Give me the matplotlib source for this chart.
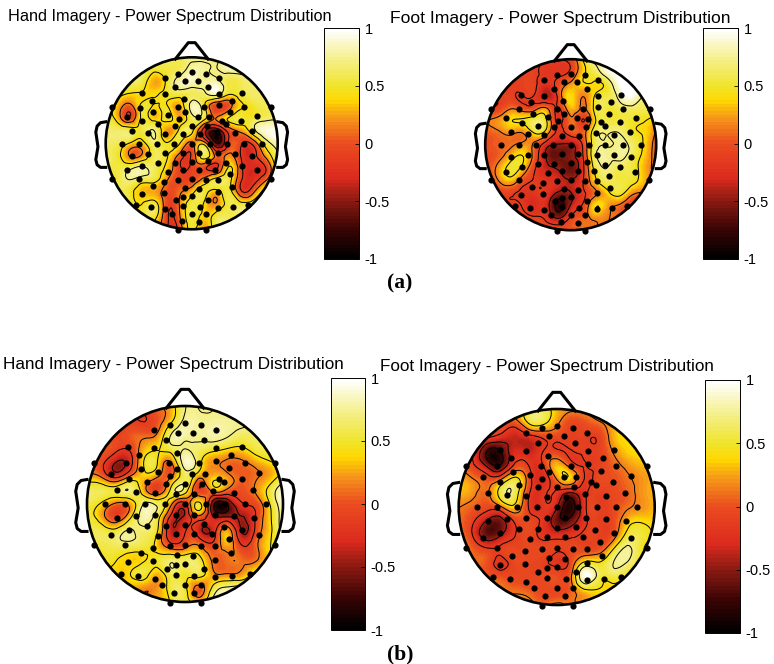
import matplotlib
matplotlib.use("Agg")
import matplotlib.pyplot as plt
import matplotlib.tri as mtri
import numpy as np
from matplotlib.colors import LinearSegmentedColormap
from matplotlib.patches import Circle

plt.rcParams['font.family'] = ['Liberation Sans', 'DejaVu Sans']

W, H = 774, 664

# value on a 15x15 raster over the head, top row first
hand_a = [
    [.65, .65, .65, .65, .65, .65, .65, .65, .65, .65, .7, .7, .7, .7, .7],
    [.65, .65, .65, .6, .5, .55, .6, .8, .75, .7, .8, .8, .8, .8, .8],
    [.65, .6, .6, .55, .25, .5, .8, .85, .75, .8, .55, .6, .65, .65, .65],
    [.55, .5, .4, .4, .4, .5, .55, .6, .65, .8, .45, .55, .65, .6, .6],
    [.55, .3, .05, .5, .4, .45, .25, .8, .5, -.1, 0, .4, .5, .6, .65],
    [.6, .3, -.05, .5, .35, .5, .3, .6, .5, .15, .45, .55, .55, .65, .65],
    [.7, .65, .6, .55, .7, .2, .5, .5, -.3, -.7, -.05, .2, .6, .9, .95],
    [.65, .6, .4, .35, .65, .45, .45, .1, .3, -.7, -.1, -.1, -.05, .55, .85],
    [.65, .5, .1, .2, .6, .45, .05, -.1, .6, .05, .2, -.15, -.25, .2, .7],
    [.65, .55, .65, .75, .6, .35, -.1, -.1, -.05, -.2, .45, -.05, -.3, -.15, .65],
    [.65, .55, .7, .55, .5, .15, -.05, -.05, .25, .55, .55, -.1, -.25, .1, .65],
    [.65, .6, .5, .3, .25, 0, .1, .35, .55, .3, .55, -.05, .1, .55, .7],
    [.65, .6, .55, .45, .55, -.05, .15, .55, .4, .2, .55, .55, .6, .7, .75],
    [.65, .6, .55, .5, .5, -.1, .1, .55, .35, .55, .6, .7, .9, .95, .95],
    [.55, .55, .55, .5, .3, -.1, -.05, .5, .15, .55, .75, .95, .95, .95, .95],
]
foot_a = [
    [-.05, -.05, -.05, -.05, -.05, -.1, -.1, -.05, .45, .8, .9, 1, 1, 1, 1],
    [-.1, -.1, -.1, -.1, -.1, -.2, -.2, -.1, .35, .6, .9, 1, 1, 1, 1],
    [-.1, -.1, -.1, -.1, -.1, -.25, -.05, .2, .4, .4, .55, .95, 1, 1, 1],
    [-.1, -.1, -.1, -.15, -.15, -.4, -.05, .4, .15, .45, .55, .8, .95, .7, .7],
    [-.05, -.1, .1, 0, 0, .15, -.15, .3, .1, .5, .55, .6, .65, .6, .55],
    [.1, .2, .4, .45, .6, .45, -.2, .1, -.15, .4, .55, .55, .5, .45, .3],
    [.05, .1, .2, .15, .45, .3, -.2, 0, .05, .6, .7, .7, .5, .4, .1],
    [-.05, .05, .1, .2, .1, -.3, -.45, -.45, -.1, .6, .7, .75, .65, .4, 0],
    [0, .05, .3, .45, .05, -.45, -.6, -.5, -.15, .65, .75, .75, .6, .35, 0],
    [-.05, .2, .5, .35, -.1, -.35, -.45, -.6, -.2, .5, .7, .6, .55, .3, .05],
    [-.05, .1, .3, 0, -.15, -.2, -.3, -.4, -.15, .35, .6, .55, .5, .3, .05],
    [-.1, -.1, -.1, -.2, -.2, -.2, -.5, -.45, -.2, .1, .35, .5, .2, .1, 0],
    [-.1, -.1, -.1, -.15, -.3, -.3, -.8, -.4, -.1, .4, .25, .1, -.1, -.1, -.1],
    [-.05, -.05, -.05, -.05, -.1, -.2, -.45, -.1, .05, .2, .15, .1, .05, 0, 0],
    [.05, .05, .05, .1, .1, .05, .05, 0, .1, .15, .2, .2, .2, .2, .2],
]
hand_b = [
    [-.1, -.1, -.1, -.05, 0, .1, .3, .7, .7, .7, .7, .7, .7, .7, .7],
    [-.1, -.1, -.1, -.1, -.15, 0, .35, .75, .75, .75, .75, .75, .75, .75, .75],
    [-.05, -.05, -.1, 0, .05, .15, .7, .8, .75, .8, .75, .65, .65, .65, .65],
    [.05, .05, -.05, -.1, .25, .4, .6, .7, .65, .55, .45, .4, .55, .6, .65],
    [.05, -.05, -.4, -.3, .4, .45, .15, .85, .55, .2, .1, .1, .25, .4, .55],
    [.25, .1, -.25, .1, .35, .2, .1, .6, .25, .3, .2, .05, .1, .25, .5],
    [.65, .6, .55, .7, .3, -.1, .5, .6, -.1, .25, .1, 0, .15, .5, .9],
    [.6, .4, .1, .2, .7, .65, .2, -.2, .5, -.6, -.7, -.2, -.05, .4, .9],
    [.55, .3, -.05, .35, .8, .55, -.25, -.35, 0, -.35, -.35, -.45, -.15, .35, .85],
    [.55, .6, .55, .75, .65, .45, -.35, -.15, -.3, -.3, .3, -.4, -.1, .35, .85],
    [.55, .55, .6, .6, .55, .35, 0, .05, .15, -.05, .25, -.1, .05, .4, .75],
    [.5, .5, .45, .35, .4, .5, .65, .6, .55, .1, .1, .1, .1, .4, .65],
    [.45, .4, .35, .4, .55, .3, .6, .5, .55, .2, .15, .2, .5, .6, .65],
    [.35, .35, .3, .3, .2, .2, .55, .5, .05, .5, .75, .8, .8, .8, .8],
    [.35, .35, .35, .35, .3, .3, .45, .55, .3, .75, .95, .95, .95, .95, .95],
]
foot_b = [
    [.2, .2, .2, .2, .3, .5, .6, .3, .2, .2, .3, .5, .6, .6, .6],
    [.1, .1, .1, .1, 0, .45, .5, .2, -.05, 0, .1, .3, .5, .5, .5],
    [0, 0, -.1, -.25, -.35, -.25, -.1, -.05, -.1, -.1, -.1, .25, .4, .45, .45],
    [-.1, -.1, -.7, -.7, -.3, -.35, -.15, -.1, -.15, -.1, -.1, .15, .35, .4, .4],
    [.1, -.1, -.5, -.7, -.1, -.15, -.15, .3, 0, -.15, -.1, .05, .2, .3, .3],
    [.3, .15, 0, .1, .5, 0, -.3, .15, .35, -.15, -.05, 0, .1, .2, .3],
    [.3, .2, .1, .55, .6, -.1, -.2, -.2, -.45, -.2, -.1, -.05, .05, .2, .3],
    [.15, .05, -.05, .1, .35, -.15, -.2, -.4, -.85, -.2, -.1, -.05, .1, .2, .3],
    [.1, -.1, -.45, -.55, -.1, -.05, -.2, -.6, -.6, -.2, -.1, -.05, .3, .4, .35],
    [.1, -.15, -.6, -.45, -.15, -.05, -.2, -.25, -.2, -.1, -.1, 0, .5, .55, .4],
    [.15, .05, -.1, -.1, -.05, -.05, -.05, -.1, -.05, -.05, 0, .4, .75, .5, .35],
    [.2, .1, 0, -.2, -.05, -.05, -.1, -.2, -.05, .5, .45, .7, .7, .5, .35],
    [.25, .2, .05, 0, -.05, -.05, -.05, 0, .1, .95, .6, .55, .45, .4, .35],
    [.3, .3, .25, .15, .1, .05, -.05, -.05, .05, .35, .4, .35, .3, .3, .3],
    [.3, .3, .3, .3, .3, .3, .1, .2, .1, .3, .3, .3, .3, .3, .3],
]

# electrode montage, in picture units of a head with radius 258 centred on (335, 340)
elec_x = [295, 335, 377, 254, 316, 355, 416, 285, 384, 185, 254, 417, 486, 215, 313, 456,
          96, 179, 294, 373, 492, 573, 220, 314, 451, 417, 140, 265, 354, 387, 531, 187,
          296, 484, 425, 235, 285, 335, 380, 438, 155, 205, 255, 310, 360, 410, 465, 515,
          125, 178, 230, 282, 335, 390, 440, 492, 547, 155, 205, 255, 310, 358, 413, 465,
          517, 140, 187, 235, 285, 335, 385, 437, 485, 530, 96, 178, 265, 310, 358, 405,
          450, 572, 218, 252, 295, 335, 378, 415, 455, 185, 252, 315, 357, 415, 167, 212,
          287, 310, 335, 385, 460, 505, 255, 310, 360, 414, 275, 335, 378, 305, 358, 295, 377]
elec_y = [131, 127, 131, 145, 152, 152, 145, 172, 172, 190, 192, 192, 190, 212, 207, 212,
          232, 233, 232, 232, 232, 232, 247, 247, 246, 226, 260, 256, 260, 262, 258, 274,
          267, 273, 273, 283, 287, 287, 287, 283, 303, 308, 312, 313, 313, 305, 310, 303,
          341, 341, 341, 341, 341, 341, 341, 341, 341, 378, 372, 370, 368, 368, 370, 372,
          378, 421, 408, 398, 398, 395, 392, 400, 408, 421, 448, 448, 425, 420, 420, 420,
          433, 448, 468, 455, 450, 447, 450, 450, 470, 492, 490, 475, 478, 487, 525, 530,
          510, 500, 497, 510, 530, 525, 537, 528, 530, 533, 553, 553, 553, 573, 575, 600, 600]

titles = ["Hand Imagery - Power Spectrum Distribution",
          "Foot Imagery - Power Spectrum Distribution",
          "Hand Imagery - Power Spectrum Distribution",
          "Foot Imagery - Power Spectrum Distribution"]
bar_ticks = [-1, -.5, 0, .5, 1]
bar_labels = ["-1", "-0.5", "0", "0.5", "1"]

cmap = LinearSegmentedColormap.from_list("topo", [
    (0.0, "#000000"), (.125, "#3a0505"), (.25, "#8c1a12"), (.35, "#dc2a1e"), (.5, "#ea4c20"),
    (.625, "#f8a018"), (.69, "#ffd800"), (.75, "#f0e428"), (.875, "#f5f090"), (1.0, "#ffffff")], N=64)

contour_levels = [-.71, -.43, -.14, .14, .43, .71]

nose_x = [-.19, -.04, .04, .19]
nose_y = [.98, 1.17, 1.17, .98]
ear_x = [1.0, 1.06, 1.1, 1.115, 1.09, 1.115, 1.1, 1.06, 1.0]
ear_y = [.25, .24, .2, .13, -.04, -.19, -.25, -.28, -.28]


def px_axes(x0, y0, x1, y1):
    return fig.add_axes([x0 / W, 1 - y1 / H, (x1 - x0) / W, (y1 - y0) / H])


def topo(values, cx, cy, r, bar):
    ax = px_axes(cx - 1.3 * r, cy - 1.3 * r, cx + 1.3 * r, cy + 1.3 * r)
    ax.set_xlim(-1.3, 1.3)
    ax.set_ylim(-1.3, 1.3)
    ax.axis("off")

    gx, gy = np.meshgrid(np.linspace(-1, 1, 15), np.linspace(1, -1, 15))
    tri = mtri.Triangulation(gx.ravel(), gy.ravel())
    interp = mtri.CubicTriInterpolator(tri, np.array(values).ravel(), kind="min_E")
    fx, fy = np.meshgrid(np.linspace(-1, 1, 300), np.linspace(-1, 1, 300))
    fz = np.clip(np.ma.filled(interp(fx, fy), 0), -1, 1)

    clip = Circle((0, 0), 1, transform=ax.transData)
    im = ax.pcolormesh(fx, fy, fz, cmap=cmap, vmin=-1, vmax=1, shading="auto")
    im.set_clip_path(clip)
    cs = ax.contour(fx, fy, fz, levels=contour_levels, colors="k", linewidths=.7, linestyles="solid")
    cs.set_clip_path(clip)

    ax.scatter((np.array(elec_x) - 335) / 258, (340 - np.array(elec_y)) / 258, s=20, c="k", linewidths=0, zorder=3)
    ax.add_patch(Circle((0, 0), 1, fill=False, ec="k", lw=1.9, zorder=4))
    ax.plot(nose_x, nose_y, "k", lw=2.2, solid_joinstyle="round")
    ax.plot(ear_x, ear_y, "k", lw=2.2, solid_joinstyle="round")
    ax.plot(-np.array(ear_x), ear_y, "k", lw=2.2, solid_joinstyle="round")

    cax = px_axes(*bar)
    cb = fig.colorbar(im, cax=cax)
    cb.set_ticks(bar_ticks)
    cb.set_ticklabels(bar_labels)
    cb.ax.tick_params(labelsize=10.5, length=3, width=.6, direction="in", pad=4)
    cb.outline.set_linewidth(.7)


fig = plt.figure(figsize=(W / 100, H / 100), dpi=100)

topo(hand_a, 191.7, 143.3, 86, (324, 28, 359, 259))
topo(foot_a, 570.7, 144.7, 85.5, (703, 28, 738, 259))
topo(hand_b, 185, 504, 98, (331, 378, 365, 630))
topo(foot_b, 556.7, 507, 98, (705, 380, 740, 633))

fig.text(8 / W, 1 - 16 / H, titles[0], fontsize=11.7, va="center")
fig.text(390 / W, 1 - 18 / H, titles[1], fontsize=12.6, va="center")
fig.text(3 / W, 1 - 365 / H, titles[2], fontsize=12.35, va="center")
fig.text(380 / W, 1 - 367 / H, titles[3], fontsize=12.3, va="center")
fig.text(400 / W, 1 - 283 / H, "(a)", fontsize=15.5, fontweight="bold", family="Liberation Serif", ha="center", va="center")
fig.text(400 / W, 1 - 654 / H, "(b)", fontsize=15.5, fontweight="bold", family="Liberation Serif", ha="center", va="center")

fig.savefig("out.png", dpi=100)
